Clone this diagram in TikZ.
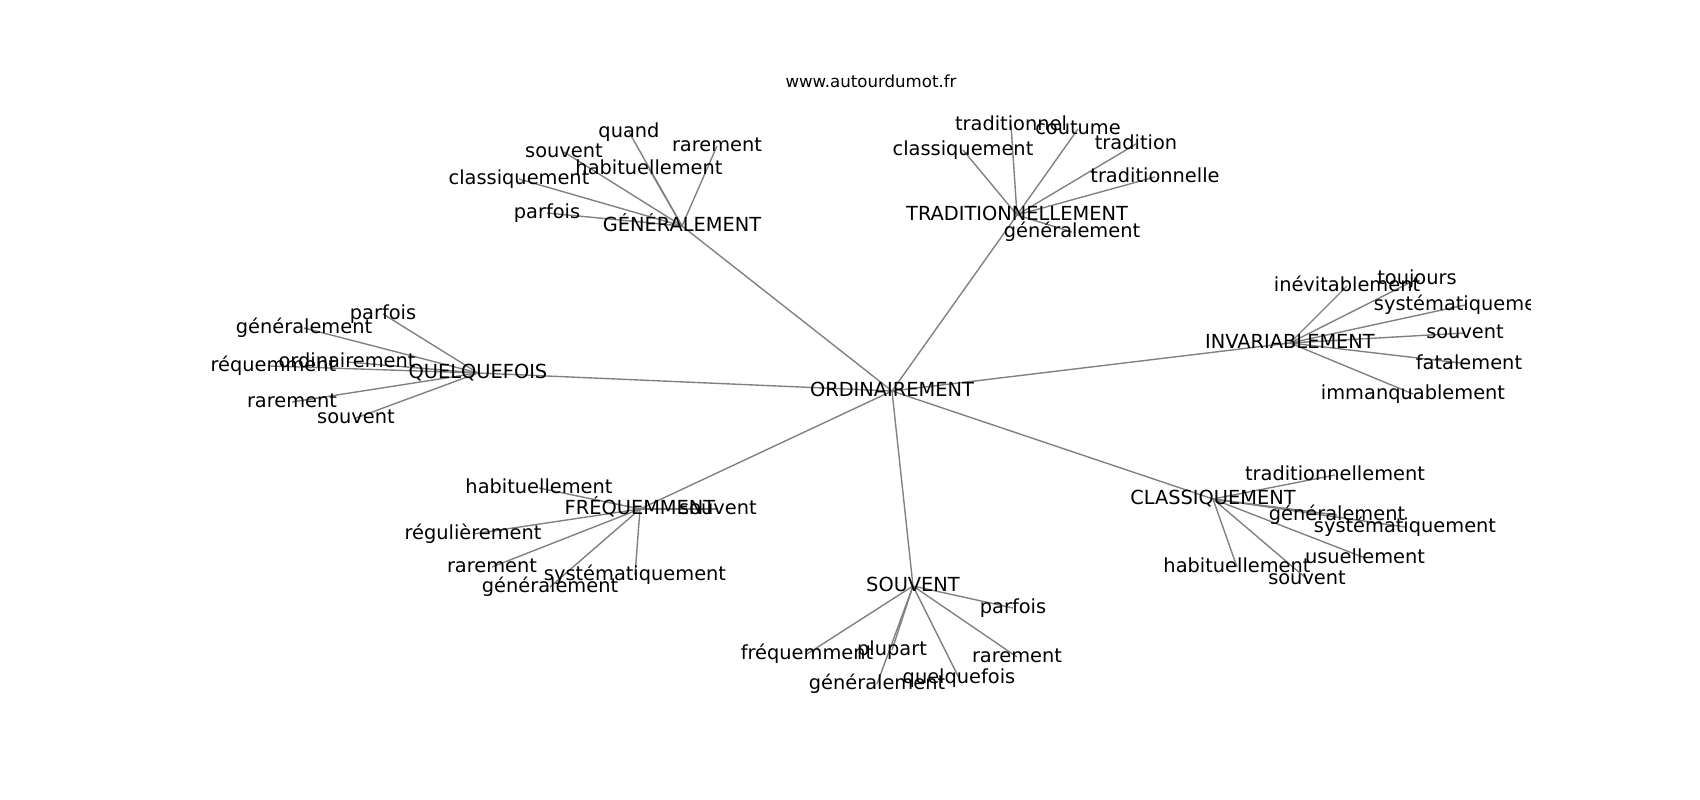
\documentclass[tikz,border=0pt]{standalone}
\usepackage{fontspec}
\setmainfont{DejaVu Sans}
\usetikzlibrary{backgrounds}

\begin{document}
\begin{tikzpicture}[x=0.01in, y=-0.01in, word/.style={inner sep=0pt, text height=10.6pt, text depth=2.9pt, font=\fontsize{14}{17}\selectfont}]
		\useasboundingbox (0,0) rectangle (1700,800);
		\node[font=\fontsize{12}{14}\selectfont, anchor=base, inner sep=0pt] (W) at (871,88) {www.autourdumot.fr};
		\begin{scope}
			\clip (212.5,96) rectangle (1530,712);
			\node[word] (O) at (892,391) {ORDINAIREMENT};
			\node[word] (G) at (682,226) {GÉNÉRALEMENT};
			\node[word] (T) at (1017,215) {TRADITIONNELLEMENT};
			\node[word] (I) at (1290,343) {INVARIABLEMENT};
			\node[word] (Q) at (478,373) {QUELQUEFOIS};
			\node[word] (F) at (640,509) {FRÉQUEMMENT};
			\node[word] (S) at (913,586) {SOUVENT};
			\node[word] (C) at (1213,499) {CLASSIQUEMENT};
			\node[word] (G1) at (629,132) {quand};
			\node[word] (G2) at (717,146) {rarement};
			\node[word] (G3) at (564,152) {souvent};
			\node[word] (G4) at (649,169) {habituellement};
			\node[word] (G5) at (519,179) {classiquement};
			\node[word] (G6) at (547,213) {parfois};
			\node[word] (T1) at (1011,125) {traditionnel};
			\node[word] (T2) at (1078,129) {coutume};
			\node[word] (T3) at (1136,144) {tradition};
			\node[word] (T4) at (963,150) {classiquement};
			\node[word] (T5) at (1155,177) {traditionnelle};
			\node[word] (T6) at (1072,232) {généralement};
			\node[word] (I1) at (1347,286) {inévitablement};
			\node[word] (I2) at (1417,279) {toujours};
			\node[word] (I3) at (1465,305) {systématiquement};
			\node[word] (I4) at (1465,333) {souvent};
			\node[word] (I5) at (1469,364) {fatalement};
			\node[word] (I6) at (1413,394) {immanquablement};
			\node[word] (Q1) at (383,314) {parfois};
			\node[word] (Q2) at (304,328) {généralement};
			\node[word] (Q3) at (270,366) {fréquemment};
			\node[word] (Q4) at (347,362) {ordinairement};
			\node[word] (Q5) at (292,402) {rarement};
			\node[word] (Q6) at (356,418) {souvent};
			\node[word] (F1) at (539,488) {habituellement};
			\node[word] (F2) at (718,509) {souvent};
			\node[word] (F3) at (473,534) {régulièrement};
			\node[word] (F4) at (492,567) {rarement};
			\node[word] (F5) at (635,575) {systématiquement};
			\node[word] (F6) at (550,587) {généralement};
			\node[word] (S1) at (1013,608) {parfois};
			\node[word] (S2) at (807,654) {fréquemment};
			\node[word] (S3) at (892,650) {plupart};
			\node[word] (S4) at (1017,657) {rarement};
			\node[word] (S5) at (959,678) {quelquefois};
			\node[word] (S6) at (877,684) {généralement};
			\node[word] (C1) at (1335,475) {traditionnellement};
			\node[word] (C2) at (1337,515) {généralement};
			\node[word] (C3) at (1405,527) {systématiquement};
			\node[word] (C4) at (1365,558) {usuellement};
			\node[word] (C5) at (1237,567) {habituellement};
			\node[word] (C6) at (1307,579) {souvent};
		\end{scope}
		\begin{scope}[on background layer, every path/.style={draw=black!50, line width=1pt}]
			\draw (O.center) -- (G.center); \draw (O.center) -- (T.center); \draw (O.center) -- (I.center); \draw (O.center) -- (Q.center);
			\draw (O.center) -- (F.center); \draw (O.center) -- (S.center); \draw (O.center) -- (C.center);
			\draw (G.center) -- (G1.center); \draw (G.center) -- (G2.center); \draw (G.center) -- (G3.center);
			\draw (G.center) -- (G4.center); \draw (G.center) -- (G5.center); \draw (G.center) -- (G6.center);
			\draw (T.center) -- (T1.center); \draw (T.center) -- (T2.center); \draw (T.center) -- (T3.center);
			\draw (T.center) -- (T4.center); \draw (T.center) -- (T5.center); \draw (T.center) -- (T6.center);
			\draw (I.center) -- (I1.center); \draw (I.center) -- (I2.center); \draw (I.center) -- (I3.center);
			\draw (I.center) -- (I4.center); \draw (I.center) -- (I5.center); \draw (I.center) -- (I6.center);
			\draw (Q.center) -- (Q1.center); \draw (Q.center) -- (Q2.center); \draw (Q.center) -- (Q3.center);
			\draw (Q.center) -- (Q4.center); \draw (Q.center) -- (Q5.center); \draw (Q.center) -- (Q6.center);
			\draw (F.center) -- (F1.center); \draw (F.center) -- (F2.center); \draw (F.center) -- (F3.center);
			\draw (F.center) -- (F4.center); \draw (F.center) -- (F5.center); \draw (F.center) -- (F6.center);
			\draw (S.center) -- (S1.center); \draw (S.center) -- (S2.center); \draw (S.center) -- (S3.center);
			\draw (S.center) -- (S4.center); \draw (S.center) -- (S5.center); \draw (S.center) -- (S6.center);
			\draw (C.center) -- (C1.center); \draw (C.center) -- (C2.center); \draw (C.center) -- (C3.center);
			\draw (C.center) -- (C4.center); \draw (C.center) -- (C5.center); \draw (C.center) -- (C6.center);
		\end{scope}
	\end{tikzpicture}
\end{document}
